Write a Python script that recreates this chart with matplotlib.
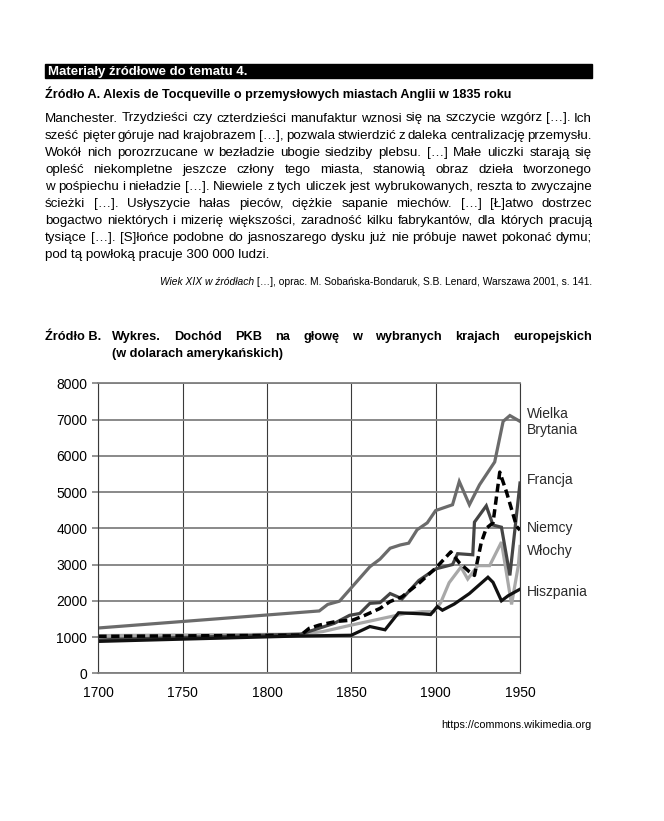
import matplotlib.pyplot as plt
from matplotlib.patches import Rectangle

plt.rcParams['font.family'] = ['Liberation Sans', 'DejaVu Sans']

# --- data (PKB per capita, USD) ---
gb_years = [1700, 1831, 1836, 1843, 1861, 1867, 1873, 1879, 1884, 1889, 1895,
            1900, 1910, 1914, 1920, 1926, 1935, 1940, 1944, 1950]
gb_vals = [1250, 1720, 1900, 1990, 2940, 3150, 3450, 3540, 3590, 3960, 4150,
           4490, 4650, 5290, 4650, 5200, 5830, 6950, 7110, 6950]

fr_years = [1700, 1820, 1840, 1849, 1855, 1861, 1867, 1873, 1877, 1880, 1890,
            1900, 1910, 1913, 1922, 1923, 1930, 1934, 1939, 1944, 1950]
fr_vals = [920, 1080, 1380, 1600, 1650, 1930, 1950, 2200, 2120, 2050, 2560,
           2880, 3000, 3300, 3270, 4170, 4620, 4090, 4030, 2700, 5250]

de_years = [1700, 1820, 1825, 1831, 1841, 1851, 1858, 1867, 1873, 1880, 1890,
            1900, 1909, 1914, 1920, 1923, 1927, 1930, 1934, 1938, 1942, 1948, 1950]
de_vals = [1020, 1050, 1240, 1330, 1430, 1470, 1600, 1790, 1980, 2110, 2480,
           2900, 3350, 3050, 2800, 2700, 3600, 4000, 4150, 5550, 5000, 4050, 3950]

it_years = [1700, 1820, 1833, 1850, 1859, 1873, 1882, 1892, 1899, 1903, 1908,
            1915, 1919, 1925, 1932, 1939, 1945, 1949, 1950]
it_vals = [1040, 1080, 1150, 1330, 1420, 1560, 1650, 1700, 1700, 1950, 2500,
           2930, 2600, 2970, 2970, 3620, 1900, 2970, 3500]

es_years = [1700, 1820, 1850, 1861, 1870, 1878, 1892, 1897, 1901, 1904, 1911,
            1920, 1931, 1934, 1939, 1943, 1950]
es_vals = [880, 1030, 1050, 1290, 1200, 1670, 1640, 1620, 1840, 1740, 1910,
           2200, 2650, 2510, 2000, 2140, 2320]

x_ticks = [1700, 1750, 1800, 1850, 1900, 1950]
y_ticks = [0, 1000, 2000, 3000, 4000, 5000, 6000, 7000, 8000]

country_labels = ['Wielka\nBrytania', 'Francja', 'Niemcy', 'Włochy', 'Hiszpania']

header = 'Materiały źródłowe do tematu 4.'
title_a = 'Źródło A. Alexis de Tocqueville o przemysłowych miastach Anglii w 1835 roku'
body_a = [
    'Manchester. Trzydzieści czy czterdzieści manufaktur wznosi się na szczycie wzgórz […]. Ich',
    'sześć pięter góruje nad krajobrazem […], pozwala stwierdzić z daleka centralizację przemysłu.',
    'Wokół nich porozrzucane w bezładzie ubogie siedziby plebsu. […] Małe uliczki starają się',
    'opleść niekompletne jeszcze człony tego miasta, stanowią obraz dzieła tworzonego',
    'w pośpiechu i nieładzie […]. Niewiele z tych uliczek jest wybrukowanych, reszta to zwyczajne',
    'ścieżki […]. Usłyszycie hałas pieców, ciężkie sapanie miechów. […] [Ł]atwo dostrzec',
    'bogactwo niektórych i mizerię większości, zaradność kilku fabrykantów, dla których pracują',
    'tysiące […]. [S]łońce podobne do jasnoszarego dysku już nie próbuje nawet pokonać dymu;',
    'pod tą powłoką pracuje 300 000 ludzi.',
]
cite_italic = 'Wiek XIX w źródłach'
cite_rest = ' […], oprac. M. Sobańska-Bondaruk, S.B. Lenard, Warszawa 2001, s. 141.'
title_b1 = 'Wykres. Dochód PKB na głowę w wybranych krajach europejskich'
title_b2 = '(w dolarach amerykańskich)'
footer = 'https://commons.wikimedia.org'

W, H = 664, 821
fig = plt.figure(figsize=(W / 100, H / 100), dpi=100)
fig.patch.set_facecolor('white')
r = fig.canvas.get_renderer()


def txt(x, y, s, **kw):
    # x, y in pixels from top-left
    kw.setdefault('va', 'baseline')
    return fig.text(x / W, 1 - y / H, s, **kw)


def justify(line, x0, x1, y, **kw):
    words = line.split(' ')
    arts = [txt(x0, y, w, **kw) for w in words]
    widths = [a.get_window_extent(r).width for a in arts]
    gap = (x1 - x0 - sum(widths)) / (len(words) - 1)
    x = x0
    for a, w in zip(arts, widths):
        a.set_x(x / W)
        x += w + gap


L, R = 45, 592

# header bar
fig.add_artist(Rectangle((L / W, 1 - 78 / H), (R - L) / W, 14 / H,
                         transform=fig.transFigure, color='black'))
txt(48, 75, header, color='white', fontsize=9.5, fontweight='bold')

txt(L, 98, title_a, fontsize=9.1, fontweight='bold')

for i, line in enumerate(body_a):
    y = 121.5 + i * 17.1
    if i < len(body_a) - 1:
        justify(line, L, R, y, fontsize=9.6)
    else:
        txt(L, y, line, fontsize=9.6)

t = txt(R, 285, cite_rest, fontsize=7.4, ha='right')
w = t.get_window_extent(r).width
txt(R - w, 285, cite_italic, fontsize=7.4, ha='right', style='italic')

txt(L, 340, 'Źródło B.', fontsize=9.2, fontweight='bold')
justify(title_b1, 112, R, 340, fontsize=9.2, fontweight='bold')
txt(112, 357, title_b2, fontsize=9.2, fontweight='bold')

# --- chart ---
ax_l, ax_r, ax_t, ax_b = 98.3, 520, 383.3, 673.3
ax = fig.add_axes([ax_l / W, 1 - ax_b / H, (ax_r - ax_l) / W, (ax_b - ax_t) / H])

lw = 2.3
ax.plot(gb_years, gb_vals, color='#6b6b6b', lw=lw, solid_joinstyle='miter')
ax.plot(it_years, it_vals, color='#a8a8a8', lw=lw, solid_joinstyle='miter')
ax.plot(fr_years, fr_vals, color='#454545', lw=lw, solid_joinstyle='miter')
ax.plot(de_years, de_vals, color='black', lw=2.5, dashes=(2.4, 1.3))
ax.plot(es_years, es_vals, color='#111111', lw=lw, solid_joinstyle='miter')

ax.set_xlim(1700, 1950)
ax.set_ylim(0, 8000)
ax.set_xticks(x_ticks)
ax.set_yticks(y_ticks)
ax.grid(axis='x', color='#3a3a3a', lw=0.8)
ax.grid(axis='y', color='#808080', lw=1.3)
ax.set_axisbelow(True)
for side in ['left', 'right']:
    ax.spines[side].set_color('#3a3a3a')
    ax.spines[side].set_linewidth(0.8)
for side in ['top', 'bottom']:
    ax.spines[side].set_color('#808080')
    ax.spines[side].set_linewidth(1.3)
ax.tick_params(axis='y', length=4, width=1.2, color='#808080', pad=4, labelsize=10)
ax.tick_params(axis='x', length=0, pad=9, labelsize=10)

# country labels on the right
label_y = [422, 480, 528, 551, 592]
for s, y in zip(country_labels, label_y):
    txt(527, y, s, fontsize=10, va='center', color='#2a2a2a', linespacing=1.15)

txt(591, 728, footer, fontsize=7.8, ha='right')

fig.savefig('out.png', dpi=100)
